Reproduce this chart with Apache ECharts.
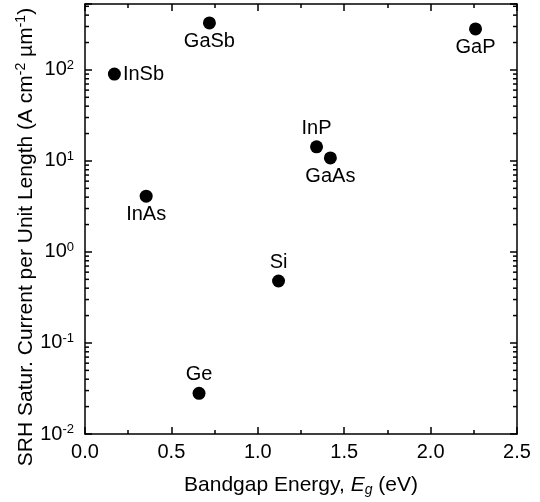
<!DOCTYPE html>
<html>
<head>
<meta charset="utf-8">
<script src="https://cdn.jsdelivr.net/npm/echarts@6/dist/echarts.min.js"></script>
<style>
  html, body { margin: 0; padding: 0; background: #fff; }
  #chart { width: 540px; height: 502px; }
</style>
</head>
<body>
<div id="chart"></div>
<script>
// Semiconductor materials and their SRH saturation current per unit length
const materials = ['InSb', 'GaSb', 'GaP', 'InP', 'GaAs', 'InAs', 'Si', 'Ge'];
const bandgaps = [0.17, 0.72, 2.26, 1.34, 1.42, 0.354, 1.12, 0.66];   // eV
const srhCurrent = [90, 328, 282, 14.3, 10.8, 4.1, 0.48, 0.028];      // A cm^-2 um^-1
const labelSides = ['right', 'bottom', 'bottom', 'top', 'bottom', 'bottom', 'top', 'top'];

// Axis ranges
const xMin = 0, xMax = 2.5, xStep = 0.5;
const yMin = 0.01, yMax = 530;
const yDecades = [-2, -1, 0, 1, 2];

const FONT = 'Liberation Sans, Arial, sans-serif';

// log minor ticks: 2..9 within each decade
const minorYTicks = [];
yDecades.forEach(function (d) {
  for (let m = 2; m <= 9; m++) {
    const v = m * Math.pow(10, d);
    if (v < yMax) minorYTicks.push(v);
  }
});

const points = materials.map(function (name, i) {
  return {
    name: name,
    value: [bandgaps[i], srhCurrent[i]],
    label: { position: labelSides[i] }
  };
});

function yLabel(v) {
  const e = Math.log10(v);
  if (Math.abs(e - Math.round(e)) > 1e-6) return '';
  return '10{sup|' + Math.round(e) + '}';
}

const tickLabelRich = {
  sup: { fontSize: 13, fontFamily: FONT, color: '#000', verticalAlign: 'top', padding: [0, 0, 9, 0] }
};

const frameLine = { color: '#000', width: 1.5 };

const chart = echarts.init(document.getElementById('chart'), null, { renderer: 'canvas' });

chart.setOption({
  animation: false,
  backgroundColor: '#fff',
  grid: { left: 85, right: 23, top: 4, bottom: 68, containLabel: false, outerBoundsMode: 'none' },
  xAxis: [{
    type: 'value', min: xMin, max: xMax, interval: xStep,
    position: 'bottom',
    axisLine: { show: true, onZero: false, lineStyle: frameLine },
    axisTick: { show: true, inside: true, length: 7, lineStyle: frameLine },
    minorTick: { show: true, splitNumber: 2, length: 4, lineStyle: frameLine },
    splitLine: { show: false },
    axisLabel: {
      fontSize: 20, fontFamily: FONT, color: '#000', margin: 8,
      formatter: function (v) { return v.toFixed(1); }
    },
    name: 'Bandgap Energy, {i|E}{sub|g} (eV)',
    nameLocation: 'middle', nameGap: 39,
    nameTextStyle: {
      fontSize: 21, fontFamily: FONT, color: '#000',
      rich: {
        i: { fontSize: 21, fontFamily: FONT, fontStyle: 'italic', color: '#000' },
        sub: { fontSize: 14, fontFamily: FONT, fontStyle: 'italic', color: '#000', verticalAlign: 'bottom', padding: [10, 0, 0, 0] }
      }
    }
  }, {
    type: 'value', min: xMin, max: xMax, interval: xStep,
    position: 'top',
    axisLine: { show: true, onZero: false, lineStyle: frameLine },
    axisTick: { show: true, inside: true, length: 7, lineStyle: frameLine },
    minorTick: { show: true, splitNumber: 2, length: 4, lineStyle: frameLine },
    splitLine: { show: false },
    axisLabel: { show: false }
  }],
  yAxis: [{
    type: 'log', logBase: 10, min: yMin, max: yMax,
    position: 'left',
    axisLine: { show: true, onZero: false, lineStyle: frameLine },
    axisTick: { show: true, inside: true, length: 7, lineStyle: frameLine },
    splitLine: { show: false },
    axisLabel: {
      fontSize: 20, fontFamily: FONT, color: '#000', margin: 11,
      formatter: yLabel, rich: tickLabelRich
    },
    name: 'SRH Satur. Current per Unit Length (A cm{sup|-2} \u00b5m{sup|-1})',
    nameLocation: 'middle', nameGap: 47, nameRotate: 90,
    nameMoveOverlap: false,
    nameTextStyle: {
      fontSize: 21, fontFamily: FONT, color: '#000',
      padding: [0, 36, 0, 0],
      rich: {
        sup: { fontSize: 14, fontFamily: FONT, color: '#000', verticalAlign: 'top', padding: [0, 0, 10, 0] }
      }
    }
  }, {
    type: 'log', logBase: 10, min: yMin, max: yMax,
    position: 'right',
    axisLine: { show: true, onZero: false, lineStyle: frameLine },
    axisTick: { show: true, inside: true, length: 7, lineStyle: frameLine },
    splitLine: { show: false },
    axisLabel: { show: false }
  }],
  series: [{
    // minor log ticks on left and right frame edges
    type: 'custom',
    xAxisIndex: 0, yAxisIndex: 0,
    silent: true,
    data: minorYTicks.map(function (v) { return [xMin, v]; }),
    renderItem: function (params, api) {
      const pl = api.coord([xMin, api.value(1)]);
      const pr = api.coord([xMax, api.value(1)]);
      const style = { stroke: '#000', lineWidth: 1.5 };
      return {
        type: 'group',
        children: [
          { type: 'line', shape: { x1: pl[0], y1: pl[1], x2: pl[0] + 4, y2: pl[1] }, style: style },
          { type: 'line', shape: { x1: pr[0], y1: pr[1], x2: pr[0] - 4, y2: pr[1] }, style: style }
        ]
      };
    },
    z: 1
  }, {
    type: 'scatter',
    xAxisIndex: 0, yAxisIndex: 0,
    symbol: 'circle', symbolSize: 13,
    itemStyle: { color: '#000', opacity: 1 },
    label: {
      show: true, distance: 2,
      fontSize: 20, fontFamily: FONT, color: '#000',
      formatter: function (p) { return p.name; }
    },
    data: points,
    z: 3
  }]
});
</script>
</body>
</html>
